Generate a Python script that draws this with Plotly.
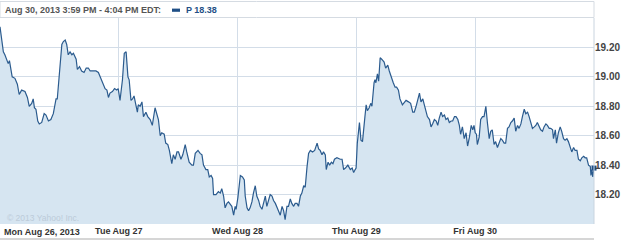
import plotly.graph_objects as go

# trading minutes since Mon Aug 26 09:30 (390 trading minutes per day)
minutes = [
    0, 11, 16, 22, 27, 31, 36, 40, 49, 57, 63, 71, 82, 90, 96, 104, 109, 113, 118, 124,
    129, 137, 145, 151, 159, 167, 175, 184, 188, 195, 203, 208, 214, 219, 224, 230, 236, 241, 250, 254,
    261, 268, 276, 283, 290, 296, 305, 315, 323, 331, 337, 345, 351, 356, 361, 369, 376, 383, 388,
    394, 402, 408, 414, 420, 424, 430, 435, 440, 446, 451, 454, 460, 466, 471, 479, 485, 493, 500, 509,
    515, 520, 526, 531, 539, 544, 551, 556, 564, 569, 575, 581, 586, 594, 600, 608, 613, 621, 630, 635,
    641, 650, 657, 663, 668, 676, 682, 687, 693, 698, 701, 709, 717, 723, 728, 734, 739, 745, 750, 756,
    761, 767, 772, 775,
    781, 789, 796, 802, 805, 811, 816, 821, 827, 832, 838, 843, 849, 854, 860, 865, 871, 876, 882, 887,
    893, 898, 904, 909, 914, 920, 926, 931, 936, 942, 947, 953, 958, 964, 969, 975, 980, 986, 991, 997,
    1002, 1008, 1013, 1019, 1026, 1033, 1041, 1046, 1051, 1057, 1062, 1068, 1071, 1077, 1082, 1088, 1093, 1098, 1106, 1117,
    1123, 1128, 1134, 1142, 1150, 1156, 1161, 1166, 1169,
    1173, 1180, 1185, 1190, 1198, 1202, 1206, 1212, 1217, 1221, 1228, 1231, 1234, 1239, 1243, 1248, 1253, 1261, 1266, 1273,
    1278, 1286, 1291, 1297, 1302, 1308, 1313, 1321, 1326, 1333, 1341, 1348, 1355, 1360, 1366, 1371, 1377, 1382, 1388, 1393,
    1399, 1403, 1410, 1415, 1420, 1426, 1432, 1437, 1442, 1448, 1453, 1459, 1464, 1470, 1475, 1481, 1486, 1492, 1497, 1503,
    1508, 1512, 1518, 1524, 1530, 1535, 1541, 1547, 1552, 1556, 1560,
    1564, 1567, 1573, 1578, 1584, 1589, 1595, 1600, 1606, 1611, 1616, 1622, 1627, 1633, 1639, 1644, 1649, 1655, 1660, 1666,
    1671, 1677, 1682, 1688, 1693, 1699, 1704, 1710, 1715, 1721, 1726, 1732, 1737, 1742, 1748, 1754, 1759, 1764, 1770, 1775,
    1781, 1786, 1792, 1797, 1803, 1808, 1814, 1817, 1823, 1827, 1833, 1839, 1844, 1850, 1855, 1861, 1866, 1872, 1877, 1883,
    1888, 1894, 1899, 1905, 1910, 1916, 1921, 1926, 1932, 1938, 1940, 1943, 1946, 1950,
]

prices = [
    19.34, 19.17, 19.15, 19.11, 19.09, 19.11, 19.06, 19.00, 18.99, 18.95, 18.88, 18.91, 18.90, 18.86, 18.80, 18.82, 18.85, 18.79, 18.78, 18.70,
    18.68, 18.69, 18.75, 18.74, 18.70, 18.71, 18.75, 18.85, 18.85, 19.01, 19.22, 19.24, 19.25, 19.22, 19.15, 19.17, 19.15, 19.16, 19.12, 19.05,
    19.07, 19.04, 19.03, 19.06, 19.06, 19.04, 19.04, 19.04, 19.03, 18.99, 18.96, 18.92, 18.91, 18.86, 18.89, 18.90, 18.92, 18.91, 18.92,
    18.84, 18.98, 19.16, 19.17, 19.00, 18.98, 18.84, 18.85, 18.87, 18.81, 18.76, 18.81, 18.80, 18.83, 18.73, 18.76, 18.73, 18.71, 18.67, 18.79,
    18.74, 18.71, 18.60, 18.62, 18.61, 18.55, 18.54, 18.50, 18.41, 18.47, 18.44, 18.49, 18.49, 18.44, 18.47, 18.54, 18.49, 18.42, 18.40, 18.40,
    18.48, 18.50, 18.48, 18.47, 18.40, 18.37, 18.37, 18.32, 18.33, 18.31, 18.20, 18.20, 18.22, 18.21, 18.24, 18.19, 18.11, 18.14, 18.15, 18.13,
    18.12, 18.06, 18.12, 18.10,
    18.18, 18.33, 18.32, 18.30, 18.19, 18.11, 18.09, 18.11, 18.15, 18.21, 18.26, 18.19, 18.16, 18.12, 18.10, 18.14, 18.19, 18.12, 18.16, 18.20,
    18.19, 18.16, 18.14, 18.12, 18.09, 18.06, 18.12, 18.09, 18.03, 18.12, 18.12, 18.17, 18.14, 18.12, 18.14, 18.14, 18.12, 18.19, 18.21, 18.26,
    18.25, 18.39, 18.48, 18.50, 18.49, 18.50, 18.55, 18.51, 18.50, 18.47, 18.49, 18.47, 18.37, 18.42, 18.40, 18.42, 18.41, 18.44, 18.45, 18.44,
    18.44, 18.37, 18.38, 18.40, 18.37, 18.38, 18.35, 18.37, 18.38,
    18.55, 18.69, 18.57, 18.56, 18.73, 18.81, 18.77, 18.79, 18.82, 18.80, 18.96, 18.98, 18.96, 19.02, 18.97, 19.13, 19.12, 19.10, 19.06, 19.08,
    19.04, 18.98, 18.96, 18.93, 18.93, 18.91, 18.85, 18.81, 18.82, 18.84, 18.83, 18.82, 18.76, 18.76, 18.80, 18.85, 18.89, 18.83, 18.85, 18.81,
    18.77, 18.73, 18.71, 18.66, 18.68, 18.71, 18.70, 18.67, 18.72, 18.76, 18.73, 18.74, 18.71, 18.72, 18.69, 18.70, 18.70, 18.73, 18.73, 18.71,
    18.67, 18.61, 18.66, 18.58, 18.62, 18.53, 18.59, 18.67, 18.64, 18.67, 18.62,
    18.61, 18.54, 18.59, 18.71, 18.73, 18.73, 18.80, 18.69, 18.58, 18.63, 18.64, 18.54, 18.56, 18.52, 18.55, 18.58, 18.57, 18.55, 18.55, 18.65,
    18.66, 18.69, 18.70, 18.72, 18.63, 18.67, 18.65, 18.68, 18.73, 18.78, 18.75, 18.76, 18.73, 18.70, 18.65, 18.66, 18.67, 18.69, 18.66, 18.64,
    18.63, 18.66, 18.68, 18.67, 18.65, 18.65, 18.64, 18.58, 18.64, 18.55, 18.62, 18.66, 18.63, 18.58, 18.57, 18.58, 18.56, 18.52, 18.49, 18.52,
    18.50, 18.50, 18.44, 18.43, 18.45, 18.46, 18.45, 18.45, 18.40, 18.39, 18.33, 18.37, 18.32, 18.38,
]

day_ticks = [0, 390, 780, 1170, 1560]
day_labels = ["Mon Aug 26, 2013", "Tue Aug 27", "Wed Aug 28", "Thu Aug 29", "Fri Aug 30"]
y_ticks = [18.2, 18.4, 18.6, 18.8, 19.0, 19.2]
header_text = "Aug 30, 2013 3:59 PM - 4:04 PM EDT:"
symbol = "P"

LINE = "#2b5b8e"
FILL = "#d6e5f1"
GRID = "#d3dde8"
FONT = "Liberation Sans, Arial, sans-serif"

PH = 206.0  # plot height in px
PW = 594.0  # plot width in px


def py(px_from_top):
    """paper y for a pixel row measured from top of page (plot top at 18)."""
    return (224 - px_from_top) / PH


fig = go.Figure()
fig.add_trace(go.Scatter(
    x=minutes, y=prices, mode="lines", fill="tozeroy", fillcolor=FILL,
    line=dict(color=LINE, width=1.2), hoverinfo="skip", showlegend=False,
))
fig.add_trace(go.Scatter(
    x=[minutes[-1]], y=[prices[-1]], mode="markers",
    marker=dict(color="#1f4f86", size=5, symbol="square"),
    cliponaxis=False, showlegend=False, hoverinfo="skip",
))

fig.update_layout(
    width=625, height=242,
    margin=dict(l=0, r=31, t=18, b=18),
    paper_bgcolor="white", plot_bgcolor="white",
    font=dict(family=FONT, size=9, color="#333333"),
    xaxis=dict(
        range=[0, 1950], tickmode="array", tickvals=day_ticks,
        ticktext=[""] + day_labels[1:],
        showgrid=True, gridcolor=GRID, gridwidth=1, zeroline=False,
        showline=False, ticks="", ticklen=0,
        tickfont=dict(family=FONT, size=9, color="#333333", weight="bold"),
        fixedrange=True,
    ),
    yaxis=dict(
        range=[18.0, 19.4], side="right", tickmode="array", tickvals=y_ticks,
        ticktext=[f"{v:.2f}" for v in y_ticks],
        showgrid=True, gridcolor=GRID, gridwidth=1, zeroline=False,
        showline=False, ticks="", ticklen=0,
        tickfont=dict(family=FONT, size=10, color="#444444", weight="bold"),
        fixedrange=True,
    ),
    shapes=[
        dict(type="rect", xref="paper", yref="paper", x0=0, x1=1,
             y0=py(17.5), y1=py(1.5), line=dict(color="#d5dbe2", width=1),
             fillcolor="white", layer="below"),
        dict(type="line", xref="paper", yref="paper", x0=1, x1=1, y0=0, y1=1,
             line=dict(color="#c9d4df", width=1)),
        dict(type="line", xref="paper", yref="paper", x0=0, x1=1,
             y0=py(239), y1=py(239), line=dict(color="#d6d6d6", width=2)),
        dict(type="rect", xref="paper", yref="paper",
             x0=172 / PW, x1=180 / PW, y0=py(11.8), y1=py(8.6),
             line=dict(width=0), fillcolor="#1f4f86"),
    ],
    annotations=[
        dict(text=f"<b>{header_text}</b>", xref="paper", yref="paper",
             x=3 / PW, y=py(10), xanchor="left", yanchor="middle",
             showarrow=False, font=dict(family=FONT, size=9, color="#555555")),
        dict(text=f"<b>{symbol} {prices[-1]:.2f}</b>", xref="paper", yref="paper",
             x=184 / PW, y=py(10), xanchor="left", yanchor="middle",
             showarrow=False, font=dict(family=FONT, size=9, color="#1f4f86")),
        dict(text=f"<b>{day_labels[0]}</b>", xref="paper", yref="paper",
             x=2 / PW, y=py(232), xanchor="left", yanchor="middle",
             showarrow=False, font=dict(family=FONT, size=9, color="#333333")),
        dict(text="© 2013 Yahoo! Inc.", xref="paper", yref="paper",
             x=5 / PW, y=py(218), xanchor="left", yanchor="middle",
             showarrow=False, font=dict(family=FONT, size=8.5, color="#bccbd9")),
    ],
)

fig.write_html("out.html")
